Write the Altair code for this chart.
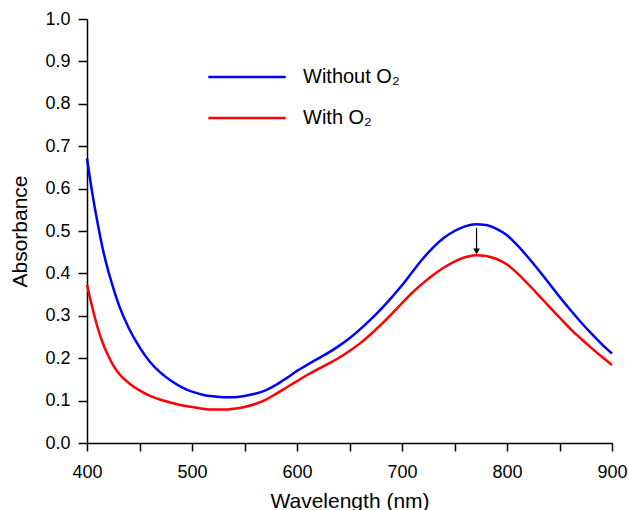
import altair as alt
import pandas as pd

wavelength = [400, 405, 410, 415, 420, 425, 430, 440, 450, 460, 470, 480, 490, 500,
              510, 520, 530, 540, 550, 560, 570, 580, 590, 600, 610, 620, 630, 640,
              650, 660, 670, 680, 690, 700, 710, 720, 730, 740, 750, 760, 770, 780,
              790, 800, 810, 820, 830, 840, 850, 860, 870, 880, 890, 900]

without_o2 = [0.671, 0.590, 0.520, 0.458, 0.408, 0.366, 0.328, 0.270, 0.226, 0.191,
              0.166, 0.147, 0.132, 0.121, 0.114, 0.110, 0.108, 0.108, 0.111, 0.116,
              0.124, 0.137, 0.153, 0.170, 0.185, 0.199, 0.213, 0.229, 0.247, 0.268,
              0.291, 0.316, 0.343, 0.372, 0.404, 0.435, 0.462, 0.484, 0.500, 0.511,
              0.516, 0.514, 0.505, 0.490, 0.466, 0.438, 0.408, 0.377, 0.345, 0.315,
              0.286, 0.259, 0.234, 0.211]

with_o2 = [0.373, 0.320, 0.273, 0.236, 0.207, 0.183, 0.165, 0.141, 0.124, 0.111,
           0.102, 0.095, 0.089, 0.085, 0.081, 0.079, 0.079, 0.081, 0.085, 0.092,
           0.102, 0.116, 0.131, 0.146, 0.161, 0.174, 0.187, 0.201, 0.217, 0.235,
           0.256, 0.279, 0.304, 0.330, 0.355, 0.377, 0.397, 0.414, 0.428, 0.438,
           0.443, 0.441, 0.434, 0.421, 0.400, 0.375, 0.349, 0.322, 0.296, 0.270,
           0.247, 0.225, 0.204, 0.184]

series_names = ["Without O\u2082", "With O\u2082"]
series_colors = ["#0000FF", "#FF0000"]

x_ticks = [400, 450, 500, 550, 600, 650, 700, 750, 800, 850, 900]
y_ticks = [round(i * 0.05, 2) for i in range(21)]

arrow_x = [771]
arrow_y_start = [0.507]
arrow_y_end = [0.452]

rows = []
for w, a, b in zip(wavelength, without_o2, with_o2):
    rows.append({"wl": w, "abs": a, "series": series_names[0]})
    rows.append({"wl": w, "abs": b, "series": series_names[1]})
df = pd.DataFrame(rows)

arrow_df = pd.DataFrame({"wl": arrow_x, "y1": arrow_y_start, "y2": arrow_y_end})

FONT = "Liberation Sans"

x_scale = alt.Scale(domain=[400, 900], nice=False)
y_scale = alt.Scale(domain=[0, 1], nice=False)

x_axis = alt.Axis(
    title="Wavelength (nm)",
    values=x_ticks,
    labelExpr="datum.value % 100 == 0 ? datum.label : ''",
    labelFlush=False,
    tickSize=8,
    labelPadding=12,
    titlePadding=9,
    grid=False,
)
y_axis = alt.Axis(
    title="Absorbance",
    values=y_ticks,
    format=".1f",
    labelExpr="round(datum.value * 100) % 10 == 0 ? datum.label : ''",
    labelFlush=False,
    tickSize=9,
    labelPadding=8,
    titlePadding=14,
    grid=False,
)

lines = alt.Chart(df).mark_line(strokeWidth=2.5, interpolate="monotone").encode(
    x=alt.X("wl:Q", scale=x_scale, axis=x_axis),
    y=alt.Y("abs:Q", scale=y_scale, axis=y_axis),
    color=alt.Color(
        "series:N",
        scale=alt.Scale(domain=series_names, range=series_colors),
        legend=alt.Legend(
            title=None,
            orient="none",
            legendX=137,
            legendY=35,
            symbolType="M-1.8,0L1.8,0",
            symbolSize=1849,
            symbolStrokeWidth=2.5,
            labelFont=FONT,
            labelFontSize=20,
            labelColor="black",
            labelOffset=33,
            rowPadding=8,
        ),
    ),
    order=alt.Order("wl:Q"),
)

arrow_line = alt.Chart(arrow_df).mark_rule(color="black", strokeWidth=1.2).encode(
    x="wl:Q", y="y1:Q", y2="y2:Q"
)
arrow_head = alt.Chart(arrow_df).mark_point(
    shape="triangle-down", filled=True, color="black", size=45, opacity=1
).encode(x="wl:Q", y="y2:Q")

chart = alt.layer(lines, arrow_line, arrow_head).properties(
    width=525,
    height=424,
    autosize=alt.AutoSizeParams(type="none"),
    padding={"left": 87, "top": 19, "right": 17, "bottom": 67},
    background="white",
).configure_view(stroke=None).configure_axis(
    domainColor="black",
    domainWidth=1.5,
    tickColor="black",
    tickWidth=1.5,
    labelFont=FONT,
    labelFontSize=18,
    labelColor="black",
    titleFont=FONT,
    titleFontSize=21,
    titleFontWeight="normal",
    titleColor="black",
)

chart.save("out.html", embed_options={"renderer": "svg", "actions": False})
